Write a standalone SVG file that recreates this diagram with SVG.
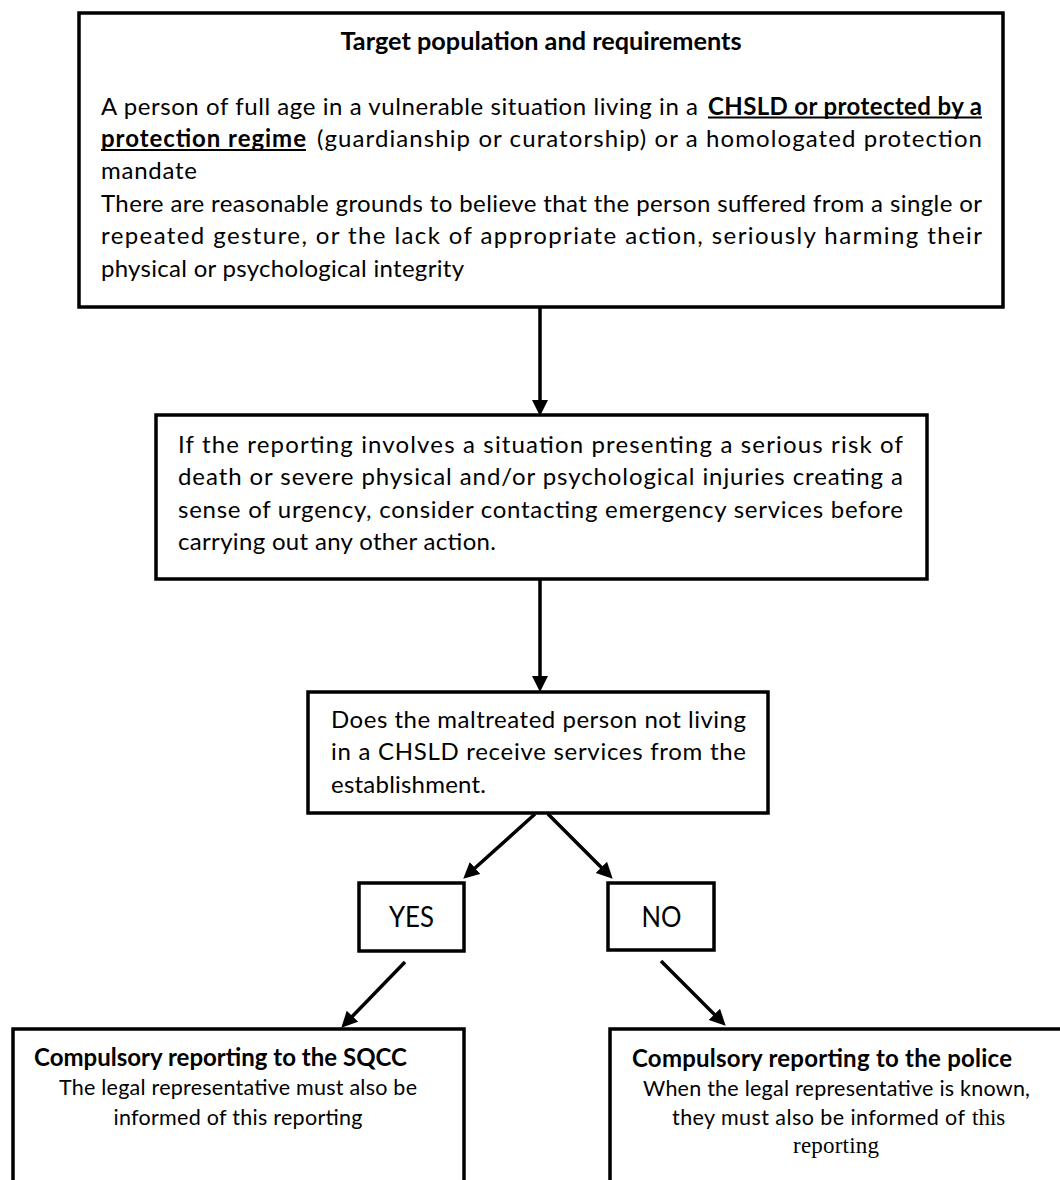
<svg xmlns="http://www.w3.org/2000/svg" width="1060" height="1180" viewBox="0 0 1060 1180">
<style>
.box{fill:#fff;stroke:#000;stroke-width:3.5}
.t{font-family:Lato,"Open Sans","Liberation Sans",sans-serif;font-size:24px;fill:#000}
.s{font-family:Lato,"Open Sans","Liberation Sans",sans-serif;font-size:21.5px;fill:#000}
.b{font-weight:bold}
.ul{stroke:#000;stroke-width:1.8}
.serif{font-family:"Liberation Serif","Times New Roman",serif;font-size:23px;fill:#000}
.c{text-anchor:middle}
.conn{stroke:#000;stroke-width:3.5;fill:none;marker-end:url(#ah)}
</style>
<defs>
<marker id="ah" markerUnits="userSpaceOnUse" markerWidth="17" markerHeight="17" refX="5" refY="8" orient="auto">
<path d="M0,0 L16,8 L0,16 z" fill="#000"/>
</marker>
</defs>
<rect width="1060" height="1180" fill="#fff"/>

<g id="node-target">
<rect class="box" x="79" y="13" width="924" height="294"/>
<text class="t b c" x="541" y="50" textLength="401" lengthAdjust="spacingAndGlyphs">Target population and requirements</text>
<text class="t" x="101" y="115" textLength="597" lengthAdjust="spacing">A person of full age in a vulnerable situation living in a</text>
<text class="t b" x="708" y="115" textLength="274" lengthAdjust="spacing">CHSLD or protected by a</text>
<line class="ul" x1="708" y1="117.5" x2="982" y2="117.5"/>
<text class="t b" x="101" y="147" textLength="205" lengthAdjust="spacing">protection regime</text>
<line class="ul" x1="101" y1="150" x2="306" y2="150"/>
<text class="t" x="317" y="147" textLength="665" lengthAdjust="spacing">(guardianship or curatorship) or a homologated protection</text>
<text class="t" x="101" y="179" textLength="96" lengthAdjust="spacing">mandate</text>
<text class="t" x="101" y="212" textLength="881" lengthAdjust="spacing">There are reasonable grounds to believe that the person suffered from a single or</text>
<text class="t" x="101" y="244" textLength="881" lengthAdjust="spacing">repeated gesture, or the lack of appropriate action, seriously harming their</text>
<text class="t" x="101" y="277" textLength="363" lengthAdjust="spacing">physical or psychological integrity</text>
</g>

<g id="node-urgency">
<rect class="box" x="156" y="415" width="771" height="164"/>
<text class="t" x="178" y="453" textLength="725" lengthAdjust="spacing">If the reporting involves a situation presenting a serious risk of</text>
<text class="t" x="178" y="485" textLength="725" lengthAdjust="spacing">death or severe physical and/or psychological injuries creating a</text>
<text class="t" x="178" y="518" textLength="725" lengthAdjust="spacing">sense of urgency, consider contacting emergency services before</text>
<text class="t" x="178" y="550" textLength="318" lengthAdjust="spacing">carrying out any other action.</text>
</g>

<g id="node-question">
<rect class="box" x="308" y="692" width="460" height="121"/>
<text class="t" x="331" y="728" textLength="415" lengthAdjust="spacing">Does the maltreated person not living</text>
<text class="t" x="331" y="760" textLength="415" lengthAdjust="spacing">in a CHSLD receive services from the</text>
<text class="t" x="331" y="793" textLength="155" lengthAdjust="spacing">establishment.</text>
</g>

<g id="node-yes">
<rect class="box" x="359" y="883" width="105" height="68"/>
<text class="t c" x="411.5" y="927" style="font-size:28px" textLength="45" lengthAdjust="spacingAndGlyphs">YES</text>
</g>

<g id="node-no">
<rect class="box" x="608" y="883" width="106" height="67"/>
<text class="t c" x="661.5" y="927" style="font-size:28px" textLength="40" lengthAdjust="spacingAndGlyphs">NO</text>
</g>

<g id="node-sqcc">
<rect class="box" x="13" y="1029" width="451" height="200"/>
<text class="t b" x="34" y="1066" textLength="373" lengthAdjust="spacing">Compulsory reporting to the SQCC</text>
<text class="s c" x="238" y="1095" textLength="358" lengthAdjust="spacing">The legal representative must also be</text>
<text class="s c" x="238" y="1125" textLength="249" lengthAdjust="spacing">informed of this reporting</text>
</g>

<g id="node-police">
<rect class="box" x="610" y="1029" width="500" height="200"/>
<text class="t b" x="632" y="1067" textLength="380" lengthAdjust="spacing">Compulsory reporting to the police</text>
<text class="s c" x="836.5" y="1096" textLength="387" lengthAdjust="spacing">When the legal representative is known,</text>
<text class="s" x="672" y="1125" textLength="293" lengthAdjust="spacing">they must also be informed of</text>
<text class="serif" x="972" y="1125">this</text>
<text class="serif c" x="836" y="1153" textLength="86" lengthAdjust="spacing">reporting</text>
</g>

<g id="connectors">
<line class="conn" x1="540" y1="307" x2="540" y2="405"/>
<line class="conn" x1="540" y1="579" x2="540" y2="681"/>
<line class="conn" x1="535" y1="814" x2="471.4" y2="871.3"/>
<line class="conn" x1="548" y1="814" x2="604.9" y2="870.9"/>
<line class="conn" x1="405" y1="962" x2="349" y2="1019.8"/>
<line class="conn" x1="661" y1="961" x2="717.9" y2="1017.9"/>
</g>
</svg>
